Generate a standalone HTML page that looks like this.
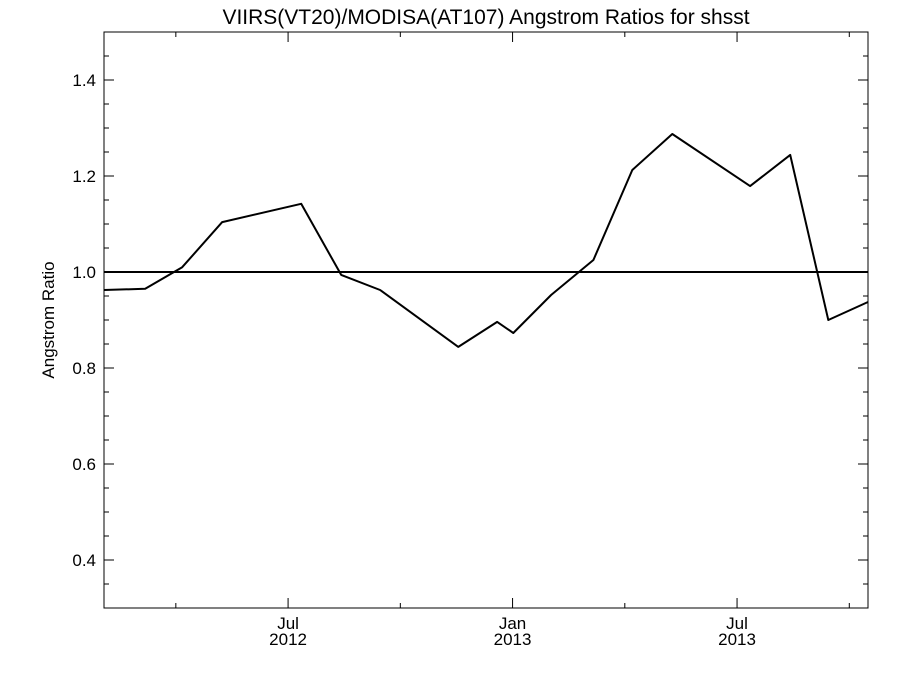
<!DOCTYPE html>
<html><head><meta charset="utf-8"><style>
body{margin:0;background:#fff}
svg text{font-family:"Liberation Sans",sans-serif;fill:#000}
</style></head><body>
<svg id="chart" width="900" height="675" viewBox="0 0 900 675">
<text x="486" y="24" font-size="21" text-anchor="middle">VIIRS(VT20)/MODISA(AT107)  Angstrom Ratios for shsst</text>
<text transform="translate(54,320) rotate(-90)" font-size="17" text-anchor="middle">Angstrom Ratio</text>
<g id="axes"></g>
<g id="marks"></g>
</svg>
<script>
const months=[1.08,2.18,3.17,4.24,6.35,7.42,8.46,10.55,11.59,12.02,13.03,14.16,15.2,16.27,18.35,19.42,20.44,21.5];
const ratios=[0.9625,0.965,1.010,1.104,1.142,0.994,0.9625,0.844,0.896,0.873,0.952,1.025,1.2125,1.2875,1.179,1.244,0.9,0.9375];
const yTicks=[0.4,0.6,0.8,1.0,1.2,1.4];
const yTickLabels=["0.4","0.6","0.8","1.0","1.2","1.4"];
const xTicks=[6,12,18];
const xTickLabels=[["Jul","2012"],["Jan","2013"],["Jul","2013"]];
const xMinor=[3,9,15,21];
const L=104,R=868,T=32,B=608;
const xMin=1.08,xMax=21.5,yMin=0.3,yMax=1.5;
const X=m=>L+(m-xMin)/(xMax-xMin)*(R-L);
const Y=v=>B-(v-yMin)/(yMax-yMin)*(B-T);
const NS="http://www.w3.org/2000/svg";
const axes=document.getElementById('axes'),marks=document.getElementById('marks');
function mk(tag,attrs,parent){const e=document.createElementNS(NS,tag);for(const k in attrs)e.setAttribute(k,attrs[k]);parent.appendChild(e);return e;}
const frame=mk('rect',{x:L,y:T,width:R-L,height:B-T,fill:'none',stroke:'#000','stroke-width':1},axes);


for(let v=0.3;v<=1.5001;v+=0.05){
  const major=Math.abs(Math.round(v*10)-v*10)<1e-6 && Math.round(v*10)%2===0;
  const len=major?10:5;const y=Y(v);
  const t1=mk('line',{x1:L,x2:L+len,y1:y,y2:y,stroke:'#000'},axes);
  
  
  const t2=mk('line',{x1:R,x2:R-len,y1:y,y2:y,stroke:'#000'},axes);
  
  
}
yTicks.forEach((v,i)=>{
  const t=mk('text',{x:L-8,y:Y(v)+6,'font-size':17,'text-anchor':'end'},axes);t.textContent=yTickLabels[i];
  
  
});
xTicks.forEach((m,i)=>{
  const x=X(m);
  const a=mk('line',{x1:x,x2:x,y1:B,y2:B-10,stroke:'#000'},axes);
  
  
  const b=mk('line',{x1:x,x2:x,y1:T,y2:T+10,stroke:'#000'},axes);
  
  
  xTickLabels[i].forEach((s,j)=>{
    const t=mk('text',{x:x,y:B+21+j*16,'font-size':17,'text-anchor':'middle'},axes);t.textContent=s;
    
    
  });
});
xMinor.forEach(m=>{
  const x=X(m);
  const a=mk('line',{x1:x,x2:x,y1:B,y2:B-5,stroke:'#000'},axes);
  
  
  const b=mk('line',{x1:x,x2:x,y1:T,y2:T+5,stroke:'#000'},axes);
  
  
});
const ref=mk('line',{x1:L,x2:R,y1:Y(1.0),y2:Y(1.0),stroke:'#000','stroke-width':2},marks);


const pts=months.map((m,i)=>X(m).toFixed(1)+','+Y(ratios[i]).toFixed(1)).join(' ');
const line=mk('polyline',{points:pts,fill:'none',stroke:'#000','stroke-width':2,'stroke-linejoin':'round'},marks);


</script>
</body></html>
